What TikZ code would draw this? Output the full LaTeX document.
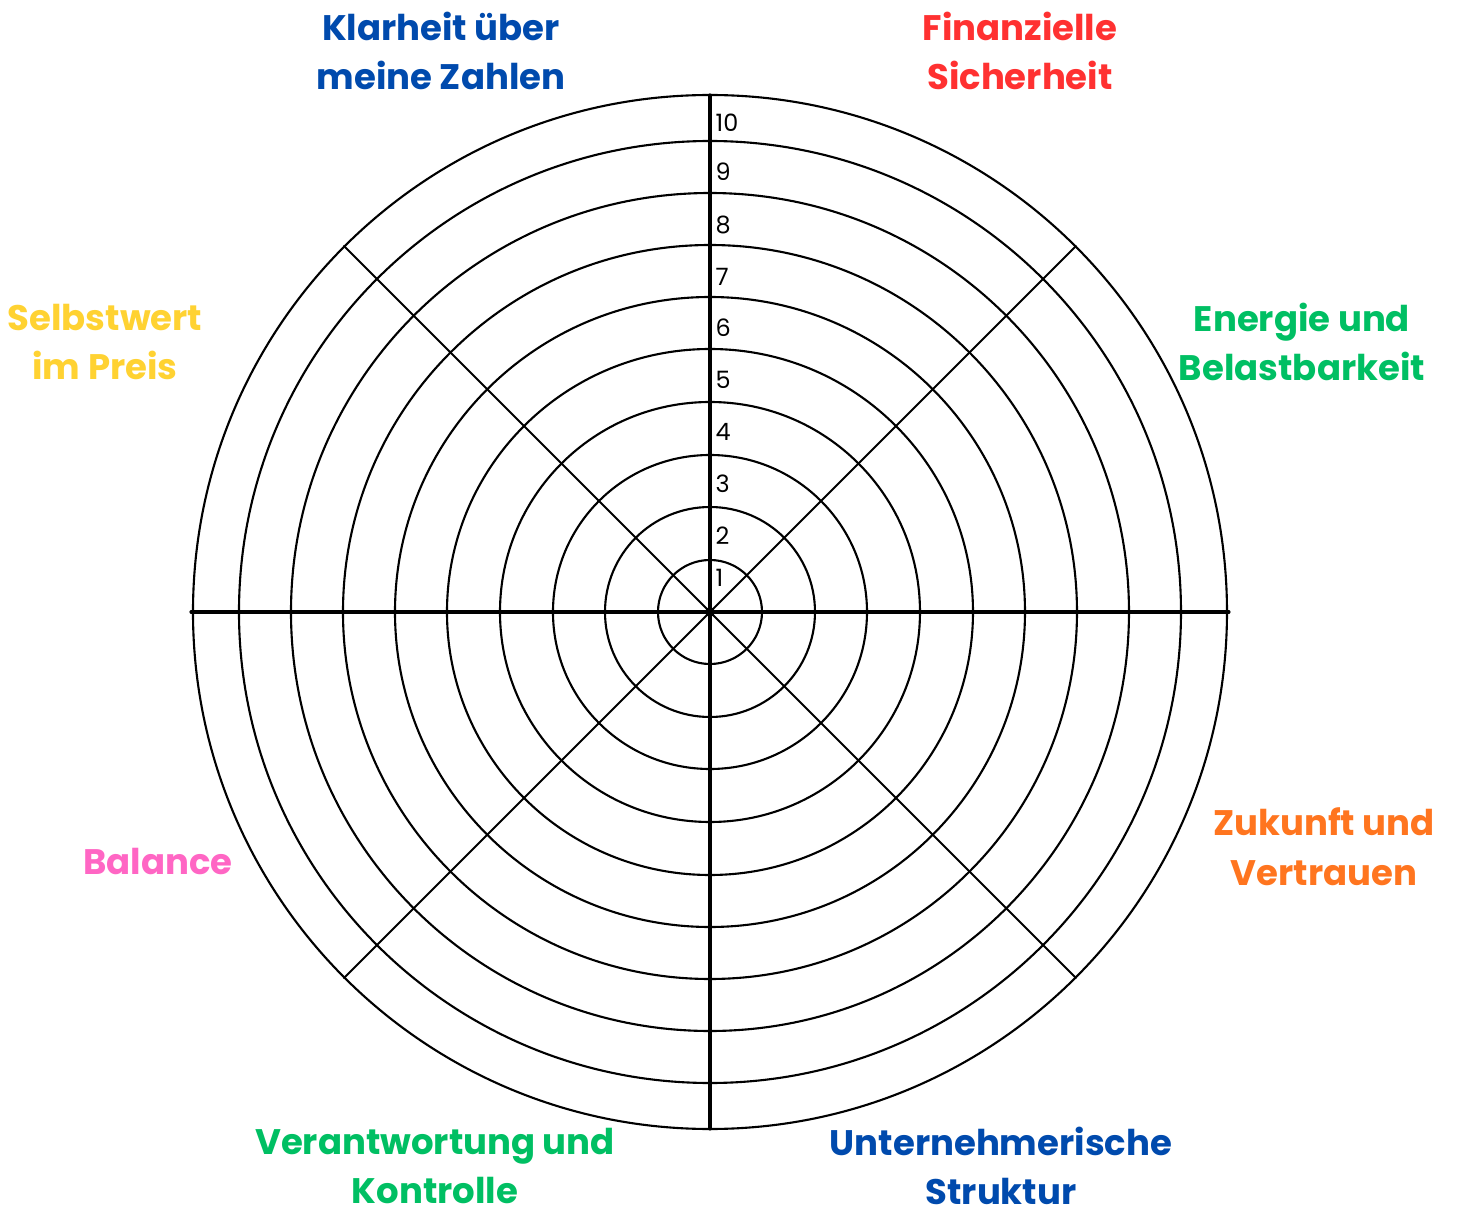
\documentclass[tikz,border=0pt]{standalone}
\usepackage{fontspec}
\setmainfont{Poppins}
\usepackage{tikz}
\usepackage{tkz-euclide}

\definecolor{zblue}{HTML}{004AAD}
\definecolor{zred}{HTML}{FF3131}
\definecolor{zgreen}{HTML}{00BF63}
\definecolor{zorange}{HTML}{FF751F}
\definecolor{zpink}{HTML}{FF66C4}
\definecolor{zyellow}{HTML}{FFD232}

\tikzset{
  area/.style={align=center, inner sep=0pt, font=\fontsize{10.1}{14.1}\selectfont\bfseries},
  num/.style={anchor=west, inner sep=0pt, font=\fontsize{6.8}{8}\selectfont}
}

\begin{document}
\begin{tikzpicture}
    \useasboundingbox (-7.10,-6.00) rectangle (7.47,6.12);
    \tkzDefPoint(0,0){O}
    \tkzDefPoint(0,0.52){r1}
    \tkzDefPoint(0,1.05){r2}
    \tkzDefPoint(0,1.57){r3}
    \tkzDefPoint(0,2.10){r4}
    \tkzDefPoint(0,2.63){r5}
    \tkzDefPoint(0,3.15){r6}
    \tkzDefPoint(0,3.67){r7}
    \tkzDefPoint(0,4.19){r8}
    \tkzDefPoint(0,4.71){r9}
    \tkzDefPoint(0,5.17){r10}
    \tkzDrawCircles[color=black, line width=0.6pt](O,r1 O,r2 O,r3 O,r4 O,r5 O,r6 O,r7 O,r8 O,r9 O,r10)

    \tkzDefPoint(0,5.17){N}
    \tkzDefPoint(0,-5.17){S}
    \tkzDefPoint(-5.19,0){W}
    \tkzDefPoint(5.19,0){E}
    \tkzDrawSegments[color=black, line width=0.9pt](S,N W,E)
    \tkzDefPoint(-3.66,3.66){NW}
    \tkzDefPoint(3.66,-3.66){SE}
    \tkzDefPoint(3.66,3.66){NE}
    \tkzDefPoint(-3.66,-3.66){SW}
    \tkzDrawSegments[color=black, line width=0.6pt](NW,SE NE,SW)
    \fill (O) circle (0.05);

    % scale along the vertical axis
    \node[num] (n1) at (0.05,0.34){1};
    \node[num] (n2) at (0.05,0.76){2};
    \node[num] (n3) at (0.05,1.28){3};
    \node[num] (n4) at (0.05,1.80){4};
    \node[num] (n5) at (0.05,2.32){5};
    \node[num] (n6) at (0.05,2.84){6};
    \node[num] (n7) at (0.05,3.35){7};
    \node[num] (n8) at (0.05,3.87){8};
    \node[num] (n9) at (0.05,4.40){9};
    \node[num] (n10) at (0.05,4.89){10};

    \node[area, zblue] (klar) at (-2.69,5.61){Klarheit über\\meine Zahlen};
    \node[area, zred] (finanz) at (3.10,5.61){Finanzielle\\Sicherheit};
    \node[area, zgreen] (energie) at (5.92,2.70){Energie und\\Belastbarkeit};
    \node[area, zyellow] (selbst) at (-6.05,2.70){Selbstwert\\im Preis};
    \node[area, zorange] (zukunft) at (6.14,-2.35){Zukunft und\\Vertrauen};
    \node[area, zpink] (balance) at (-5.52,-2.50){Balance};
    \node[area, zblue] (struktur) at (2.91,-5.54){Unternehmerische\\Struktur};
    \node[area, zgreen] (verant) at (-2.75,-5.54){Verantwortung und\\Kontrolle};
    \end{tikzpicture}
\end{document}
